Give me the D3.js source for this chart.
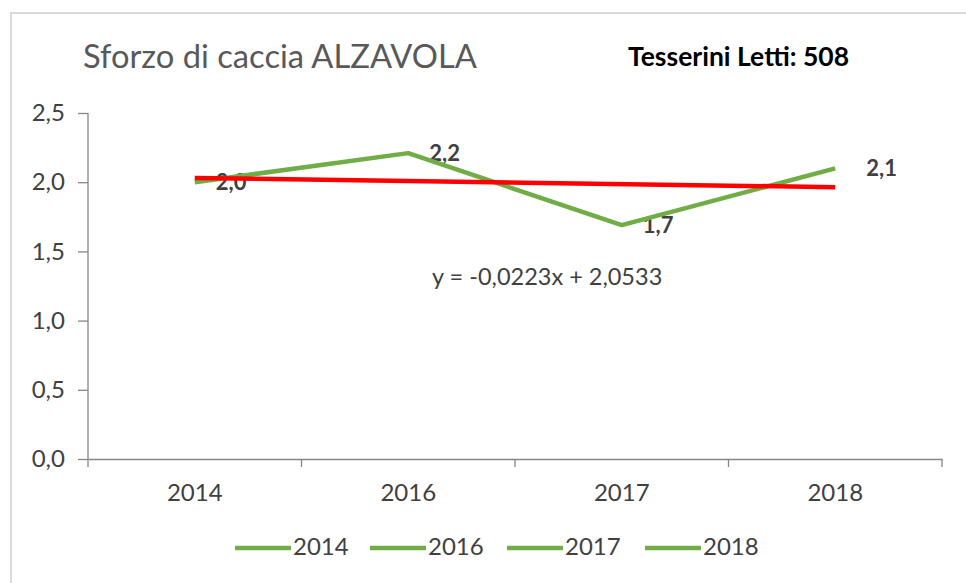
<!DOCTYPE html>
<html>
<head>
<meta charset="utf-8">
<script src="https://cdn.jsdelivr.net/npm/d3@7"></script>
<style>
  body { margin: 0; background: #fff; }
  text { font-family: Lato, "Open Sans", sans-serif; }
  .axis-text { fill: #404040; font-size: 24px; }
</style>
</head>
<body>
<svg id="chart" width="966" height="583"></svg>
<script>
// data
var years = ['2014', '2016', '2017', '2018'];
var sforzo = [2.00, 2.21, 1.69, 2.10];
var yTicks = [0, 0.5, 1.0, 1.5, 2.0, 2.5];
// linear trend shown on the chart: y = slope*x + intercept (x = 1..4)
var trendSlope = -0.0223;
var trendIntercept = 2.0533;

var svg = d3.select('#chart');
var fmt = function(v) { return d3.format('.1f')(v).replace('.', ','); };

// outer frame
svg.append('rect')
    .attr('x', 11).attr('y', 13)
    .attr('width', 1000).attr('height', 600)
    .attr('fill', 'none')
    .attr('stroke', '#d9d9d9')
    .attr('stroke-width', 2);

var x = d3.scaleBand().domain(years).range([88, 942]);
var y = d3.scaleLinear().domain([0, 2.5]).range([459, 113]);

// title
svg.append('text')
    .attr('x', 83).attr('y', 68)
    .attr('fill', '#595959')
    .style('font-size', '32.7px')
    .text('Sforzo di caccia ALZAVOLA');

svg.append('text')
    .attr('x', 628).attr('y', 66)
    .attr('fill', '#000')
    .style('font-size', '26.5px')
    .style('font-weight', 'bold')
    .text('Tesserini Letti: 508');

// y axis
var yAxis = svg.append('g')
    .attr('transform', 'translate(88,0)')
    .call(d3.axisLeft(y).tickValues(yTicks).tickSize(10).tickPadding(13).tickFormat(fmt));
yAxis.select('.domain').attr('stroke', '#868686').attr('stroke-width', 1.3).attr('d', 'M0,' + y(2.5) + 'V' + y(0));
yAxis.selectAll('.tick line').attr('stroke', '#868686').attr('stroke-width', 1.3);
yAxis.selectAll('.tick text').attr('class', 'axis-text').attr('font-size', null).attr('font-family', null);

// x axis with ticks at band edges
var xAxis = svg.append('g')
    .attr('transform', 'translate(0,' + y(0) + ')')
    .call(d3.axisBottom(x).tickSize(0).tickPadding(25));
xAxis.select('.domain').attr('stroke', '#868686').attr('stroke-width', 1.3);
xAxis.selectAll('.tick text').attr('class', 'axis-text').attr('font-size', null).attr('font-family', null);
xAxis.selectAll('.edge')
    .data(years.concat(['end']))
    .enter().append('line')
    .attr('x1', function(d, i) { return x.range()[0] + i * x.step(); })
    .attr('x2', function(d, i) { return x.range()[0] + i * x.step(); })
    .attr('y1', 0).attr('y2', 8)
    .attr('stroke', '#868686').attr('stroke-width', 1.3);

// data labels (under the lines, as in the original)
svg.selectAll('.lbl')
    .data(sforzo)
    .enter().append('text')
    .attr('x', function(d, i) { return x(years[i]) + x.bandwidth() / 2 + (i == 3 ? 31 : 21); })
    .attr('y', function(d) { return y(d) + 2; })
    .attr('dominant-baseline', 'middle')
    .attr('fill', '#404040')
    .style('font-size', '22px')
    .style('font-weight', 'bold')
    .text(fmt);

// series line
var line = d3.line()
    .x(function(d, i) { return x(years[i]) + x.bandwidth() / 2; })
    .y(function(d) { return y(d); });

svg.append('path')
    .datum(sforzo)
    .attr('d', line)
    .attr('fill', 'none')
    .attr('stroke', '#70ad47')
    .attr('stroke-width', 4.5)
    .attr('stroke-linejoin', 'round');

// trend line
var trend = years.map(function(d, i) { return trendSlope * (i + 1) + trendIntercept; });
svg.append('path')
    .datum([trend[0], trend[trend.length - 1]])
    .attr('d', d3.line()
        .x(function(d, i) { return x(years[i * (years.length - 1)]) + x.bandwidth() / 2; })
        .y(function(d) { return y(d); }))
    .attr('fill', 'none')
    .attr('stroke', '#ff0000')
    .attr('stroke-width', 4.5);

// trend equation
svg.append('text')
    .attr('class', 'axis-text')
    .style('font-size', '23.5px')
    .attr('x', 432).attr('y', 285)
    .text('y = ' + String(trendSlope).replace('.', ',') + 'x + ' + String(trendIntercept).replace('.', ','));

// legend
var legend = svg.append('g').attr('transform', 'translate(235,548)');
var item = legend.selectAll('g')
    .data(years)
    .enter().append('g')
    .attr('transform', function(d, i) { return 'translate(' + [0, 135, 272, 410][i] + ',0)'; });
item.append('line')
    .attr('x1', 0).attr('x2', 56)
    .attr('stroke', '#70ad47').attr('stroke-width', 4.5);
item.append('text')
    .attr('class', 'axis-text')
    .attr('x', 58).attr('y', 1)
    .attr('dominant-baseline', 'middle')
    .text(function(d) { return d; });
</script>
</body>
</html>
